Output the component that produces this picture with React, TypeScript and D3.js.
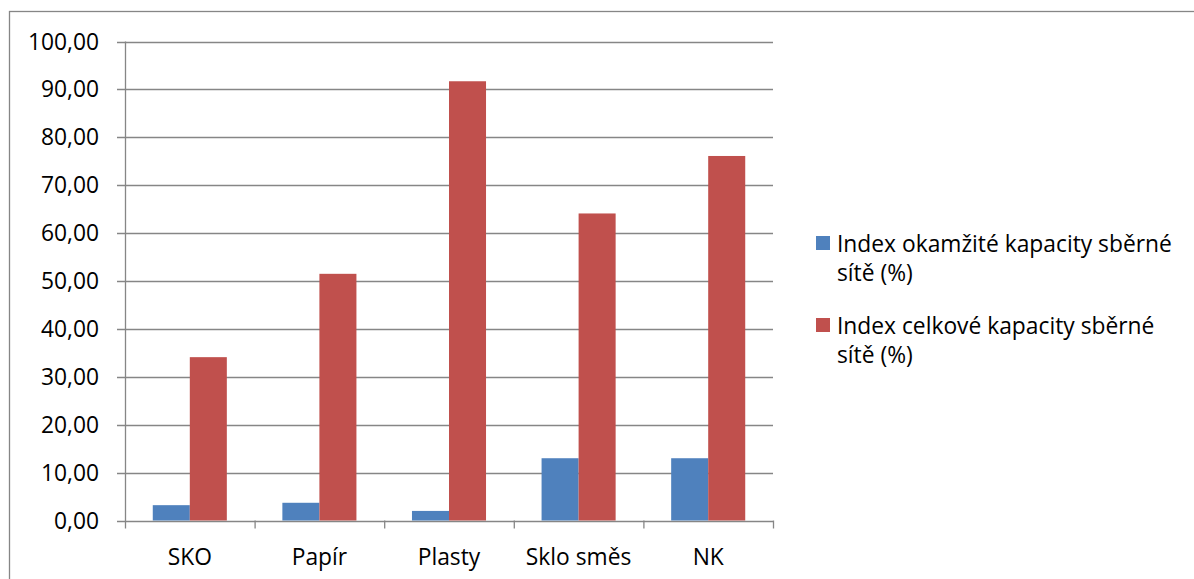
import React from "react";
import * as d3 from "d3";

const categories = ["SKO", "Papír", "Plasty", "Sklo směs", "NK"];
const seriesNames = [
  "Index okamžité kapacity sběrné sítě (%)",
  "Index celkové kapacity sběrné sítě (%)",
];
const legendLines = [
  ["Index okamžité kapacity sběrné", "sítě (%)"],
  ["Index celkové kapacity sběrné", "sítě (%)"],
];
const instantValues = [3.2, 3.7, 2.0, 13.0, 13.0];
const totalValues = [34.1, 51.5, 91.7, 64.1, 76.1];
const yTicks = [0, 10, 20, 30, 40, 50, 60, 70, 80, 90, 100];
const colors = ["#4F81BD", "#C0504D"];

const W = 1194;
const H = 579;
const FONT = "'Open Sans', 'Liberation Sans', sans-serif";
const FS = 22.8;

export default function App() {
  const left = 125;
  const right = 773;
  const top = 41.5;
  const bottom = 520.5;
  const x = d3.scaleBand<string>().domain(categories).range([left, right]).paddingInner(0).paddingOuter(0);
  const inner = d3.scaleBand<string>().domain(["a", "b"]).range([0, x.bandwidth()]).paddingOuter(0.75).paddingInner(0);
  const y = d3.scaleLinear().domain([0, 100]).range([bottom, top]);
  const series = [instantValues, totalValues];
  const fmt = (v: number) => v.toFixed(2).replace(".", ",");
  const gridColor = "#868686";

  return (
    <svg width={W} height={H} style={{ position: "absolute", left: 0, top: 0, background: "#fff" }}>
      <rect x={9.5} y={11.5} width={W} height={H} fill="#fff" stroke="#868686" strokeWidth={1.3} />
      {yTicks.map((t) => (
        <g key={t}>
          <line x1={117} x2={right} y1={Math.round(y(t)) + 0.5} y2={Math.round(y(t)) + 0.5} stroke={gridColor} strokeWidth={1.3} />
          <text x={99} y={y(t) + 8} textAnchor="end" fontFamily={FONT} fontSize={FS} fill="#000">
            {fmt(t)}
          </text>
        </g>
      ))}
      {categories.map((c, i) =>
        series.map((vals, s) => {
          const bx = (x(c) as number) + (inner(s === 0 ? "a" : "b") as number);
          return (
            <rect
              key={c + s}
              x={bx}
              y={y(vals[i])}
              width={inner.bandwidth()}
              height={y(0) - y(vals[i])}
              fill={colors[s]}
            />
          );
        })
      )}
      <line x1={left + 0.5} x2={left + 0.5} y1={top} y2={bottom + 8} stroke={gridColor} strokeWidth={1.3} />
      {categories.map((c) => (
        <line key={"t" + c} x1={(x(c) as number) + x.bandwidth() + 0.5} x2={(x(c) as number) + x.bandwidth() + 0.5} y1={bottom} y2={bottom + 8} stroke={gridColor} strokeWidth={1.3} />
      ))}
      {categories.map((c) => (
        <text key={"l" + c} x={(x(c) as number) + x.bandwidth() / 2} y={565} textAnchor="middle" fontFamily={FONT} fontSize={FS} fill="#000">
          {c}
        </text>
      ))}
      {legendLines.map((lines, s) => (
        <g key={"lg" + s}>
          <title>{seriesNames[s]}</title>
          <rect x={816} y={s === 0 ? 236 : 318} width={14} height={14} fill={colors[s]} />
          {lines.map((ln, k) => (
            <text key={k} x={837} y={(s === 0 ? 252 : 334) + k * 29} fontFamily={FONT} fontSize={FS} fill="#000">
              {ln}
            </text>
          ))}
        </g>
      ))}
    </svg>
  );
}
